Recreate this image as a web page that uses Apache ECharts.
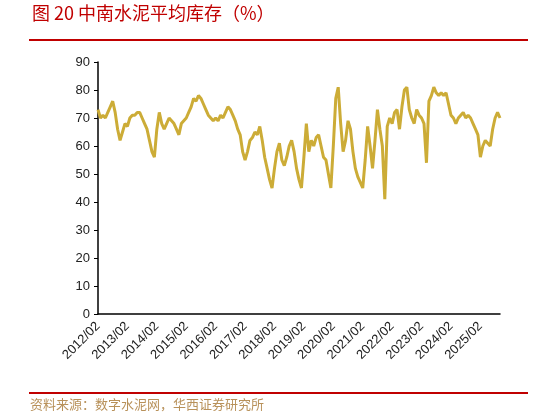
<!DOCTYPE html>
<html>
<head>
<meta charset="utf-8">
<script src="https://cdn.jsdelivr.net/npm/echarts@6/dist/echarts.min.js"></script>
<style>
  html, body { margin: 0; padding: 0; background: #fff; }
  #chart { width: 533px; height: 419px; }
</style>
</head>
<body>
<div id="chart"></div>
<script>
  // 月份 2012/02 起
  const values = [
    73, 70, 71, 70, 72, 74, 76, 72, 66, 62, 65, 68,
    67, 70, 71, 71, 72, 72, 70, 68, 66, 62, 58, 56,
    66, 72, 68, 66, 68, 70, 69, 68, 66, 64, 68, 69,
    70, 72, 74, 77, 76, 78, 77, 75, 73, 71, 70, 69,
    70, 69, 71, 70, 72, 74, 73, 71, 69, 66, 64, 58,
    55, 58, 62, 63, 65, 64, 67, 62, 56, 52, 48, 45,
    52, 58, 61, 55, 53, 56, 60, 62, 58, 52, 48, 45,
    56, 68, 58, 62, 60, 63, 64, 60, 56, 55, 50, 45,
    60, 77, 81, 68, 58, 62, 69, 66, 58, 52, 49, 47,
    45, 55, 67, 60, 52, 62, 73, 66, 60, 41, 67, 70,
    68, 72, 73, 66, 74, 80, 81, 73, 70, 68, 73, 71,
    70, 68, 54, 76, 78, 81, 79, 78, 79, 78, 79, 75,
    71, 70, 68, 70, 71, 72, 70, 71, 70, 68, 66, 64,
    56, 60, 62, 61, 60, 66, 70, 72, 70
  ];
  const months = values.map((v, i) => {
    let y = 2012 + Math.floor((i + 1) / 12);
    let m = ((i + 1) % 12) + 1;
    return y + "/" + (m < 10 ? "0" + m : m);
  });
  const yTicks = { min: 0, max: 90, interval: 10 };

  const myChart = echarts.init(document.getElementById("chart"));
  myChart.setOption({
    animation: false,
    grid: { left: 98, right: 33, top: 62, bottom: 105 },
    graphic: [
      {
        type: "text", left: 32, top: 4,
        style: { text: "图 20 中南水泥平均库存（%）", fill: "#C00000", fontSize: 18, fontFamily: "Noto Sans CJK SC" },
      },
      { type: "rect", shape: { x: 29, y: 39, width: 499, height: 2 }, style: { fill: "#C00000" } },
      { type: "rect", shape: { x: 29, y: 392, width: 499, height: 2 }, style: { fill: "#C00000" } },
      {
        type: "text", left: 30, top: 398,
        style: { text: "资料来源：数字水泥网，华西证券研究所", fill: "#B8915A", fontSize: 13, fontFamily: "Noto Sans CJK SC" },
      },
    ],
    xAxis: {
      type: "category",
      data: months,
      boundaryGap: false,
      axisLine: { lineStyle: { color: "#000", width: 1.5 } },
      axisTick: { show: false },
      axisLabel: {
        interval: (i) => i % 12 === 0,
        rotate: 45,
        color: "#222",
        fontSize: 13,
        fontFamily: "Liberation Sans",
        margin: 10,
      },
    },
    yAxis: {
      type: "value",
      min: yTicks.min,
      max: yTicks.max,
      interval: yTicks.interval,
      axisLine: { show: true, lineStyle: { color: "#000", width: 1.5 } },
      axisTick: { show: true, inside: false, length: 4, lineStyle: { color: "#000" } },
      splitLine: { show: false },
      axisLabel: { color: "#222", fontSize: 13, fontFamily: "Liberation Sans", margin: 8 },
    },
    series: [
      {
        type: "line",
        data: values,
        symbol: "none",
        lineStyle: { color: "#CCAC37", width: 3 },
      },
    ],
  });
</script>
</body>
</html>
